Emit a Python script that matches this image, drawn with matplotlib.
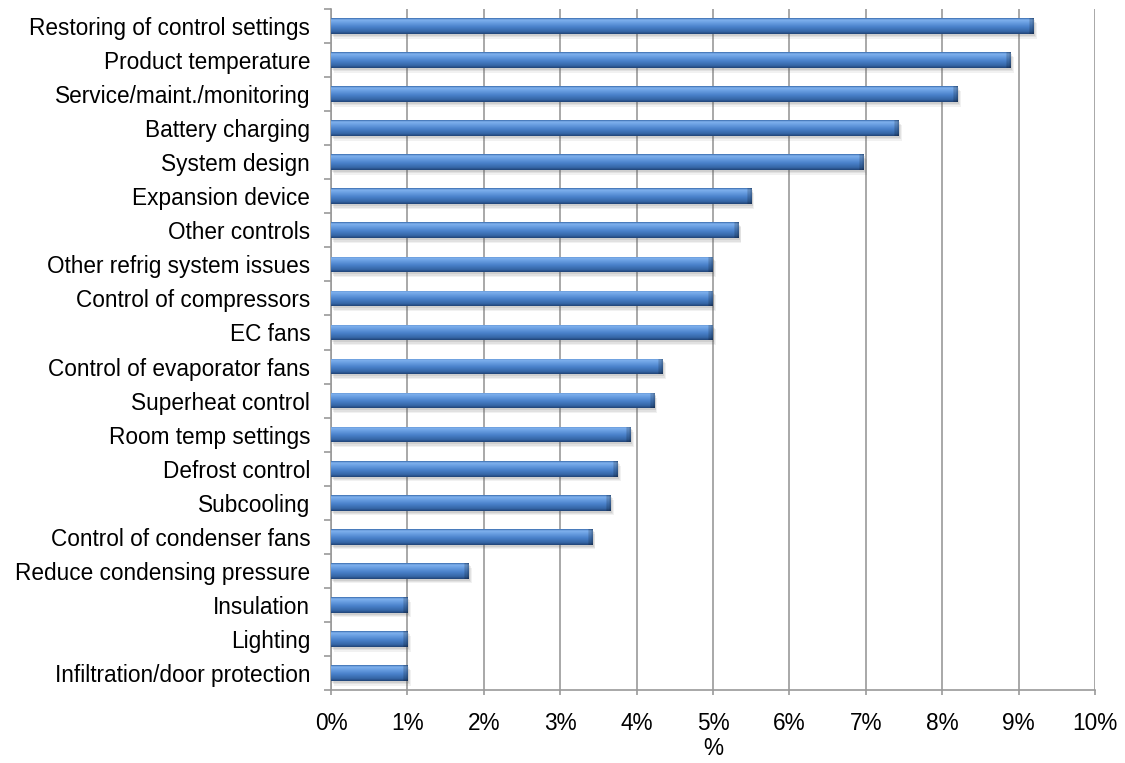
import matplotlib
matplotlib.use("Agg")
import matplotlib.pyplot as plt
import numpy as np
from matplotlib.colors import to_rgb
from matplotlib.patches import Rectangle
from matplotlib.ticker import FixedLocator, FuncFormatter

categories = [
    "Restoring of control settings",
    "Product temperature",
    "Service/maint./monitoring",
    "Battery charging",
    "System design",
    "Expansion device",
    "Other controls",
    "Other refrig system issues",
    "Control of compressors",
    "EC fans",
    "Control of evaporator fans",
    "Superheat control",
    "Room temp settings",
    "Defrost control",
    "Subcooling",
    "Control of condenser fans",
    "Reduce condensing pressure",
    "Insulation",
    "Lighting",
    "Infiltration/door protection",
]
values = [9.2, 8.9, 8.2, 7.43, 6.97, 5.5, 5.33, 5.0, 5.0, 5.0,
          4.34, 4.23, 3.92, 3.75, 3.66, 3.42, 1.8, 1.0, 1.0, 1.0]
x_ticks = list(range(0, 11))
x_label = "%"

plt.rcParams['font.family'] = ['Liberation Sans', 'DejaVu Sans']

fig = plt.figure(figsize=(11.25, 7.63), dpi=100)
ax = fig.add_axes([331/1125, 1 - 690/763, (1095-331)/1125, (690-9)/763])

n = len(categories)
ypos = np.arange(n)[::-1]
bar_h = 0.46
grid_col = "#9a9a9a"
fs = 16.3

# gradient stops (top -> bottom)
stops = [(0.0, "#3a6cae"), (0.1, "#80b2ee"), (0.28, "#6a9fe2"),
         (0.55, "#4a82cb"), (0.85, "#3566a6"), (1.0, "#214478")]
rows = 40
t = np.linspace(0, 1, rows)
cols_rgb = np.zeros((rows, 3))
sp = [s[0] for s in stops]
for c in range(3):
    cols_rgb[:, c] = np.interp(t, sp, [to_rgb(s[1])[c] for s in stops])

bars = ax.barh(ypos, values, height=bar_h, color="#4a81c8", zorder=3)
for b, v in zip(bars, values):
    x0, y0 = b.get_x(), b.get_y()
    w, h = b.get_width(), b.get_height()
    # soft shadow
    for k, a in [(0.07, 0.08), (0.05, 0.10), (0.03, 0.12)]:
        sh = Rectangle((x0 + k*0.6, y0 - k*2.0), w, h, facecolor="#555555",
                       alpha=a, edgecolor="none", zorder=2)
        ax.add_patch(sh)
    ncol = max(int(w / 0.01), 10)
    img = np.repeat(cols_rgb[:, None, :], ncol, axis=1).copy()
    img[:, -6:, :] *= 0.82
    img[:, -2:, :] *= 0.85
    im = ax.imshow(img, extent=[x0, x0 + w, y0, y0 + h], aspect='auto',
                   origin='upper', zorder=4, interpolation='bilinear')
    im.set_clip_path(b)

ax.set_xlim(0, 10)
ax.set_ylim(-0.5, n - 0.5)
ax.set_aspect('auto')

ax.xaxis.set_major_locator(FixedLocator(x_ticks))
ax.xaxis.set_major_formatter(FuncFormatter(lambda x, p: f"{int(round(x))}%"))
ax.grid(axis='x', color=grid_col, linewidth=1.2, zorder=0)
ax.set_axisbelow(True)

ax.set_yticks(ypos)
ax.set_yticklabels(categories)
ax.set_yticks(np.arange(-0.5, n, 1.0), minor=True)
ax.tick_params(axis='y', which='major', length=0, pad=15, labelsize=fs)
ax.tick_params(axis='y', which='minor', length=5, width=1.2, color=grid_col)
ax.tick_params(axis='x', which='major', length=3.5, width=1.2, color=grid_col,
               pad=12, labelsize=fs)

for s in ['top', 'right']:
    ax.spines[s].set_visible(False)
for s in ['left', 'bottom']:
    ax.spines[s].set_color(grid_col)
    ax.spines[s].set_linewidth(1.2)

ax.set_xlabel(x_label, fontsize=fs, labelpad=2)

fig.savefig("out.png", dpi=100)
